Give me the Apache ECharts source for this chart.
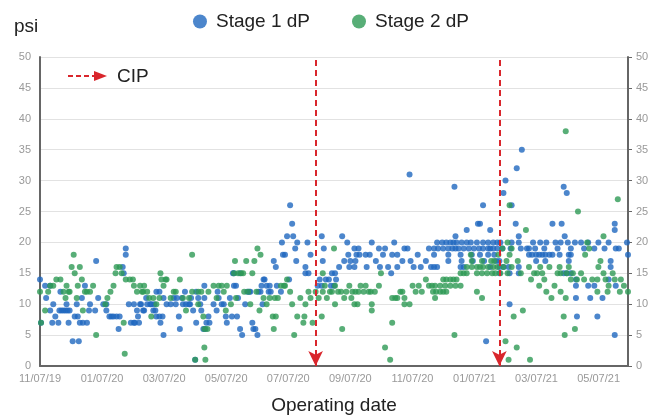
<!DOCTYPE html>
<html>
<head>
<meta charset="utf-8">
<script src="https://cdn.jsdelivr.net/npm/echarts@6/dist/echarts.min.js"></script>
<style>
html, body { margin: 0; padding: 0; background: #fff; }
#main { width: 662px; height: 416px; }
</style>
</head>
<body>
<div id="main"></div>
<script>
// x = days since 11/07/19
var xLabels = ['11/07/19', '01/07/20', '03/07/20', '05/07/20', '07/07/20', '09/07/20', '11/07/20', '01/07/21', '03/07/21', '05/07/21'];
var xStep = 60.8;
var xMax = 576;
var cipDays = [270, 450];

// Stage 1 dP [day, psi]
var stage1 = [
  [0,14],[1,7],[5,13],[6,11],[10,13],[10,9],[12,7],[13,10],[15,8],[18,7],[19,9],[20,12],[21,9],[23,9],[25,9],[26,10],[27,9],[28,7],[29,9],[32,4],[34,8],[36,10],[37,8],[38,4],[39,7],[41,11],[42,7],[44,13],[46,7],[48,9],[49,10],[54,9],[55,17],[57,11],
  [62,10],[65,10],[65,9],[68,8],[70,8],[72,8],[75,8],[77,6],[78,8],[81,16],[82,15],[84,18],[84,19],[87,10],[89,7],[92,7],[92,10],[93,7],[95,9],[96,8],[97,7],[98,10],[99,10],[101,9],[102,9],[104,11],[105,10],[108,10],[109,10],[111,9],[112,10],[113,9],[114,8],[114,12],[117,12],[117,8],[118,7],[120,8],[121,11],[121,5],
  [124,10],[128,10],[131,11],[133,10],[134,11],[136,8],[137,6],[139,11],[140,10],[142,12],[143,10],[146,10],[147,10],[148,11],[150,9],[152,1],[153,12],[153,7],[155,11],[157,10],[158,9],[160,6],[161,13],[161,11],[162,6],[163,7],[165,8],[166,7],[170,10],[173,9],[174,12],[175,11],[178,10],[180,10],[182,8],[183,7],[186,11],[188,8],[189,15],[190,15],[190,13],[192,13],[193,8],[194,11],[196,15],[196,6],[198,5],[201,10],[203,12],[205,12],[206,12],[208,7],[209,6],[211,6],[213,5],[214,12],[216,12],[217,13],[218,10],[219,14],[220,14],[222,13],[224,12],[225,13],[226,12],
  [229,17],[231,16],[232,13],[236,12],[237,20],[238,18],[240,18],[242,21],[244,14],[245,26],[247,23],[248,21],[250,19],[251,17],[252,20],[260,16],[260,15],[262,20],[263,15],[265,18],
  [272,13],[274,14],[276,21],[276,13],[277,17],[278,19],[280,14],[283,14],[285,13],[286,15],[288,13],[289,15],[290,14],
  [293,16],[296,21],[298,17],[301,20],[302,18],[303,16],[304,17],[308,19],[308,16],[309,17],[310,18],[312,19],[313,18],[319,18],[320,16],[323,18],[325,20],[329,17],[332,19],[333,16],[336,18],[338,19],[341,16],[344,15],[345,18],[347,20],[350,18],[350,16],[355,17],[357,19],[360,19],[362,31],[363,17],[366,16],[370,18],[373,16],[378,17],[381,19],[383,16],
  [386,19],[386,18],[386,16],[389,20],[389,16],[390,19],[394,20],[395,19],[398,20],[400,19],[400,18],[400,17],[402,20],[404,19],[405,20],[406,29],[407,21],[407,19],[408,20],[410,19],[412,18],[412,16],[413,20],[413,17],[415,19],[415,16],[418,20],[418,22],[420,19],[422,20],[423,18],[424,17],[425,19],[428,20],[429,23],[430,19],[431,23],[431,18],[434,26],[434,20],[434,19],[435,17],[437,4],[439,20],[439,19],[439,18],[441,19],[441,22],[441,16],[444,20],[444,19],[445,18],[447,17],[448,20],[448,19],[450,17],[450,16],[450,15],[451,20],[453,19],[454,28],[454,16],[456,30],[459,16],[460,15],[460,10],[461,19],[462,26],[462,20],[466,23],[467,32],[469,20],[469,21],[469,16],[469,15],[471,19],[472,35],[477,19],
  [479,19],[479,18],[482,18],[483,20],[485,19],[486,18],[486,17],[489,18],[490,20],[492,18],[494,19],[495,18],[495,17],[496,20],[499,18],[502,23],[502,18],[505,20],[507,19],[509,18],[510,20],[511,23],[513,29],[513,15],[514,21],[516,28],[516,15],[517,20],[518,18],[518,17],[520,19],[520,18],[520,15],[524,20],[525,14],[525,13],[525,11],[526,8],[530,20],[533,19],[537,20],[537,13],[539,11],[543,19],[543,13],[546,8],[547,20],[551,11],[553,19],[557,20],[557,14],[559,17],[559,16],[563,23],[563,22],[563,5],[564,19],[564,13],[567,19],[575,20],[576,18]
];

// Stage 2 dP [day, psi]
var stage2 = [
  [0,12],[1,7],[5,9],[8,12],[10,13],[13,13],[16,14],[20,14],[23,12],[25,11],[26,13],[28,12],[29,12],[31,16],[33,18],[34,15],[36,11],[37,13],[39,16],[41,14],[42,9],[44,12],[46,12],[49,12],[52,13],[55,5],
  [64,10],[66,11],[69,12],[72,13],[74,15],[75,16],[78,16],[80,15],[82,7],[83,2],[84,14],[88,14],[91,14],[92,13],[95,12],[98,13],[100,12],[101,12],[102,13],[105,12],[107,11],[109,8],[111,11],[114,10],[117,11],[118,15],[119,14],[121,13],[123,14],
  [124,14],[128,11],[131,12],[133,12],[137,14],[140,11],[143,9],[146,11],[149,18],[149,12],[152,1],[155,12],[155,10],[158,12],[160,8],[161,3],[161,6],[162,1],[164,6],[165,12],[170,13],[173,11],[175,13],[178,13],[180,12],[182,9],[183,13],[187,10],
  [190,15],[191,17],[192,11],[194,15],[197,15],[199,15],[200,12],[202,17],[204,12],[206,10],[208,15],[210,17],[212,12],[213,19],[215,9],[216,18],[219,11],[222,10],[225,11],[228,8],[229,6],[230,11],[231,8],[233,11],[236,13],[239,13],[240,13],[242,14],[245,12],[247,10],[249,5],[252,8],[255,11],[258,7],[259,8],[260,10],[263,12],[265,11],[267,7],
  [270,12],[273,11],[276,8],[277,15],[277,12],[279,13],[281,11],[284,12],[286,12],[288,19],[289,13],[289,10],
  [292,12],[295,12],[296,6],[298,11],[300,12],[303,13],[305,11],[306,12],[308,10],[309,12],[311,10],[312,12],[314,13],[317,12],[319,13],[322,12],[324,12],[325,10],[325,9],[328,12],[332,13],[334,15],[338,3],[343,1],[345,11],[345,7],[348,11],[350,11],[353,12],[355,12],[357,11],[357,10],[362,10],[365,13],[368,12],[371,13],[374,12],[378,14],[381,13],
  [384,13],[385,12],[387,13],[387,11],[388,12],[392,13],[392,12],[395,14],[395,12],[397,13],[398,14],[398,12],[402,14],[402,13],[405,14],[406,5],[407,13],[408,14],[412,15],[412,13],[415,15],[418,15],[418,16],[422,18],[423,16],[423,17],[428,15],[428,16],[428,12],[431,16],[433,15],[433,17],[433,11],[434,16],[438,15],[439,16],[442,17],[443,15],[444,16],[445,17],[446,15],[448,16],[449,18],[451,15],[453,19],[454,16],[456,4],[457,17],[458,20],[458,15],[459,1],[460,26],[460,18],[462,19],[462,16],[464,8],[467,3],[468,17],[471,15],[473,9],[476,22],[480,1],
  [479,16],[481,14],[484,15],[487,15],[489,13],[490,16],[492,15],[494,14],[496,12],[499,16],[501,11],[504,13],[507,15],[509,16],[510,15],[510,12],[513,8],[514,5],[515,11],[515,38],[516,15],[518,16],[520,14],[522,15],[524,6],[526,14],[527,25],[530,15],[533,14],[534,18],[536,20],[538,19],[541,14],[546,14],[546,12],[547,16],[549,17],[552,15],[552,21],[554,14],[556,12],[557,13],[561,15],[563,14],[566,27],[568,12],[569,14],[572,13],[576,12]
];

var font = 'Liberation Sans, Arial, Helvetica, sans-serif';
var red = '#d9262c';

var myChart = echarts.init(document.getElementById('main'));
myChart.setOption({
  animation: false,
  textStyle: { fontFamily: font },
  legend: {
    top: 7,
    left: 'center',
    icon: 'circle',
    itemWidth: 14,
    itemHeight: 14,
    itemGap: 42,
    textStyle: { fontSize: 19, color: '#222', fontFamily: font, padding: [0, 0, 0, 4] },
    data: ['Stage 1 dP', 'Stage 2 dP']
  },
  grid: { left: 40, right: 34, top: 57, bottom: 50, containLabel: false, outerBoundsMode: 'none' },
  xAxis: {
    type: 'value',
    min: 0,
    max: xMax,
    interval: xStep,
    name: 'Operating date',
    nameLocation: 'middle',
    nameGap: 30,
    nameTextStyle: { fontSize: 19, color: '#222' },
    axisLine: { lineStyle: { color: '#666', width: 2 } },
    axisTick: { show: false },
    splitLine: { show: false },
    axisLabel: {
      fontSize: 11,
      color: '#999',
      margin: 7,
      formatter: function (v) {
        var i = Math.round(v / xStep);
        return Math.abs(v - i * xStep) < 0.5 ? (xLabels[i] || '') : '';
      }
    }
  },
  yAxis: [
    {
      type: 'value', min: 0, max: 50, interval: 5, position: 'left',
      axisLine: { show: true, lineStyle: { color: '#666', width: 2 } },
      axisTick: { show: false },
      axisLabel: { fontSize: 11, color: '#999', margin: 9 },
      splitLine: { lineStyle: { color: '#e2e2e2', width: 1 } }
    },
    {
      type: 'value', min: 0, max: 50, interval: 5, position: 'right',
      axisLine: { show: true, lineStyle: { color: '#666', width: 2 } },
      axisTick: { show: true, length: 4, lineStyle: { color: '#666' } },
      axisLabel: { fontSize: 11, color: '#999', margin: 8 },
      splitLine: { show: false }
    }
  ],
  graphic: [
    { type: 'text', left: 14, top: 17, style: { text: 'psi', fontSize: 19, fill: '#222', fontFamily: font } },
    { type: 'line', shape: { x1: 68, y1: 76, x2: 97, y2: 76 }, style: { stroke: red, lineWidth: 2, lineDash: [5, 3] } },
    { type: 'polygon', shape: { points: [[94, 71], [107, 76], [94, 81]] }, style: { fill: red } },
    { type: 'text', left: 117, top: 67, style: { text: 'CIP', fontSize: 19, fill: '#222', fontFamily: font } }
  ],
  series: [
    {
      name: 'Stage 1 dP',
      type: 'scatter',
      symbolSize: 6,
      itemStyle: { color: '#1f68bf' },
      emphasis: { disabled: true },
      data: stage1,
      markLine: {
        silent: true,
        symbol: ['arrow', 'none'],
        symbolSize: [11, 15],
        label: { show: false },
        lineStyle: { color: red, width: 2, type: [6, 4] },
        data: cipDays.map(function (d) { return { xAxis: d }; })
      }
    },
    {
      name: 'Stage 2 dP',
      type: 'scatter',
      symbolSize: 6,
      itemStyle: { color: '#2e9a55' },
      emphasis: { disabled: true },
      data: stage2
    }
  ]
});
</script>
</body>
</html>
